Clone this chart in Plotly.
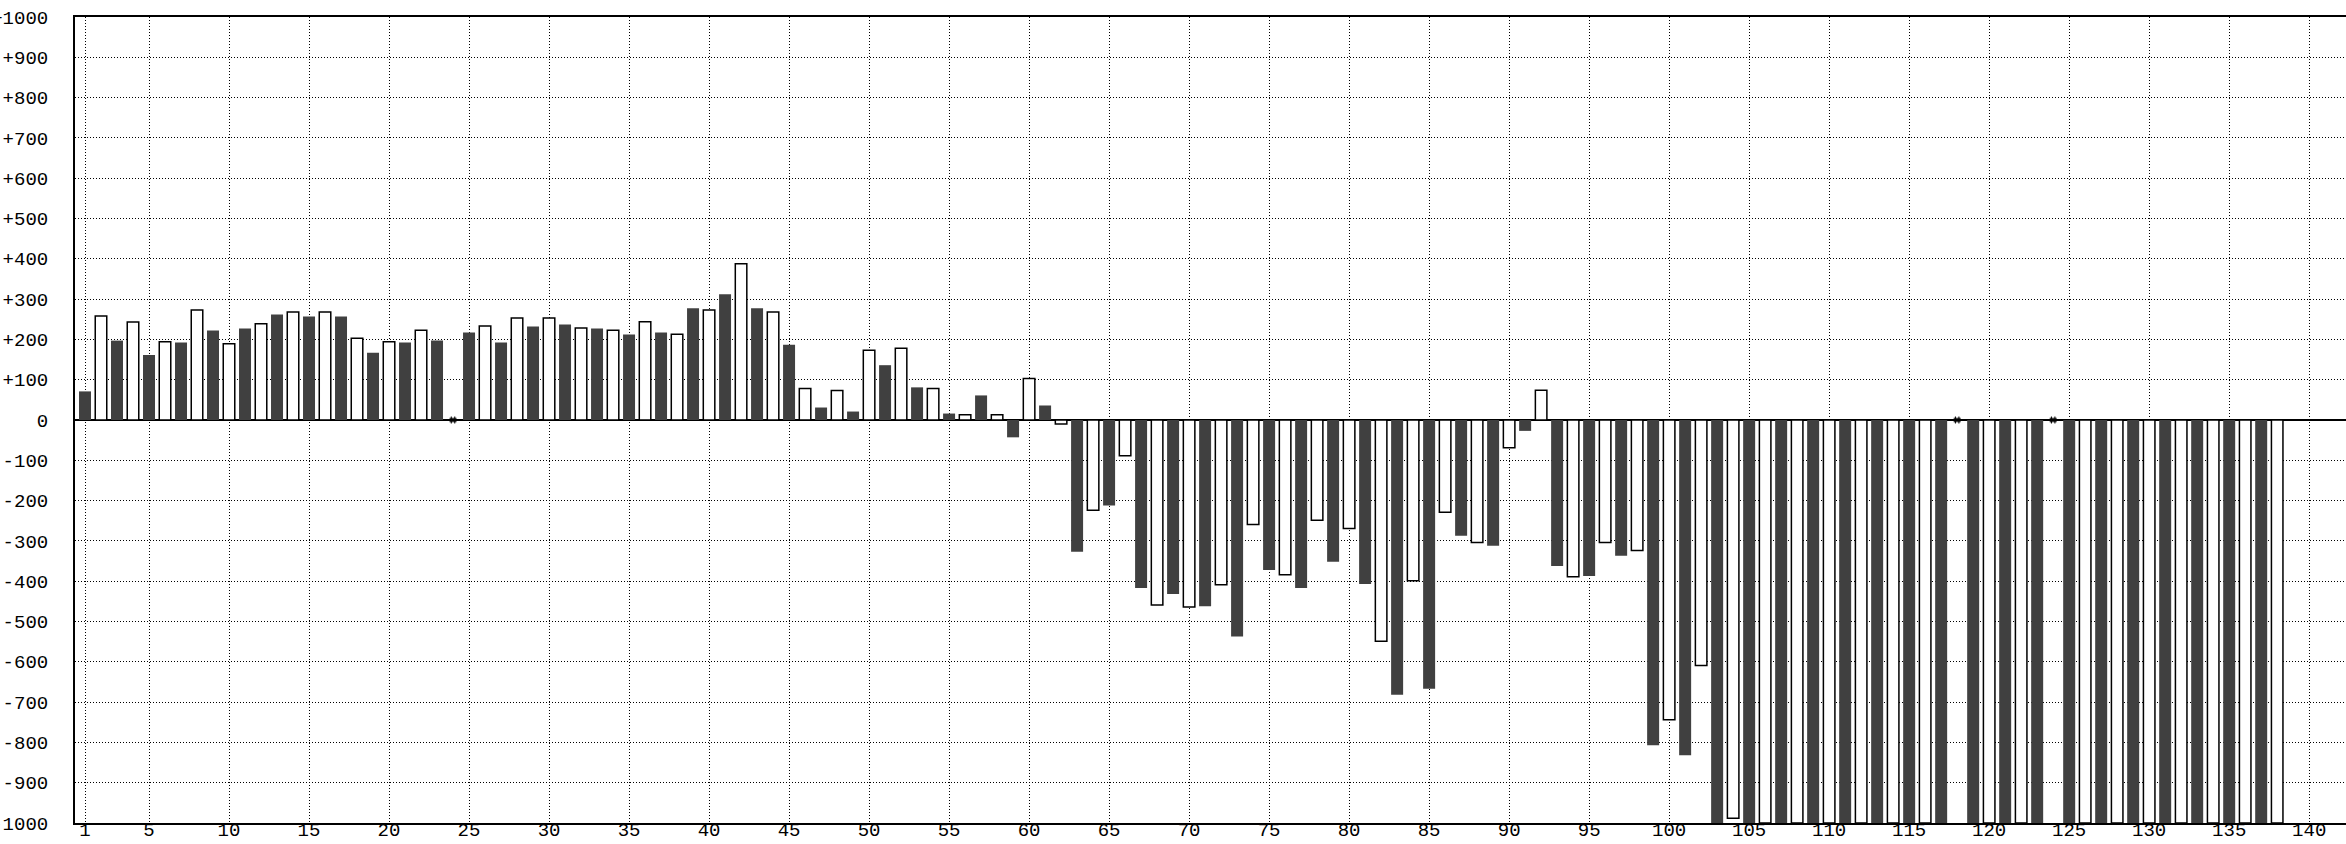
import plotly.graph_objects as go

# Category positions (1..138) and values; None = missing reading
positions = list(range(1, 139))

values_1_46 = [71, 258, 197, 243, 161, 194, 192, 273, 222, 189,
               227, 239, 262, 268, 257, 268, 257, 203, 167, 194,
               192, 223, 197, None, 217, 233, 192, 253, 232, 253,
               237, 228, 227, 223, 212, 244, 217, 213, 277, 273,
               312, 388, 277, 268, 187, 78]
values_47_92 = [31, 73, 21, 173, 136, 178, 81, 78, 16, 13,
                61, 13, -43, 103, 36, -10, -327, -224, -212, -89,
                -417, -459, -432, -464, -462, -409, -537, -259, -372, -384,
                -417, -249, -352, -269, -407, -549, -682, -399, -667, -229,
                -287, -304, -312, -69, -27, 74]
values_93_138 = [-362, -389, -387, -304, -337, -324, -807, -744, -832, -609,
                 -1000, -988, -1000, -1000, -1000, -1000, -1000, -1000, -1000, -1000,
                 -1000, -1000, -1000, -1000, -1000, None, -1000, -1000, -1000, -1000,
                 -1000, None, -1000, -1000, -1000, -1000, -1000, -1000, -1000, -1000,
                 -1000, -1000, -1000, -1000, -1000, -1000]
values = values_1_46 + values_47_92 + values_93_138

x_ticks = [1] + list(range(5, 141, 5))
y_ticks = list(range(-1000, 1001, 100))
y_ticktext = [("+" + str(v)) if v > 0 else str(v) for v in y_ticks]

odd_x = [x for x, v in zip(positions, values) if x % 2 == 1 and v is not None]
odd_v = [v for x, v in zip(positions, values) if x % 2 == 1 and v is not None]
even_x = [x for x, v in zip(positions, values) if x % 2 == 0 and v is not None]
even_v = [v for x, v in zip(positions, values) if x % 2 == 0 and v is not None]
missing_x = [x for x, v in zip(positions, values) if v is None]

X_RANGE = [0.375, 142.3]

fig = go.Figure()
fig.add_trace(go.Bar(x=odd_x, y=odd_v, width=0.75,
                     marker=dict(color="#404040", line=dict(width=0)),
                     showlegend=False))
fig.add_trace(go.Bar(x=even_x, y=even_v, width=0.72,
                     marker=dict(color="#ffffff", line=dict(color="#000000", width=1.5)),
                     showlegend=False))
fig.add_trace(go.Scatter(x=missing_x, y=[0] * len(missing_x), mode="markers",
                         xaxis="x2",
                         marker=dict(symbol="hash-open", size=7,
                                     line=dict(color="#000000", width=1), color="#000000"),
                         showlegend=False, cliponaxis=False))

font = dict(family="Liberation Mono", size=19, color="#000000")

fig.update_layout(
    width=2346, height=844,
    margin=dict(l=75, r=0, t=17, b=21, pad=0, autoexpand=False),
    paper_bgcolor="#ffffff", plot_bgcolor="#ffffff",
    barmode="overlay",
    font=font,
    xaxis=dict(range=X_RANGE, tickvals=x_ticks, showticklabels=False,
               showgrid=True, gridcolor="#000000", gridwidth=1, griddash="1px,2px",
               showline=True, linecolor="#000000", linewidth=2, mirror=True,
               ticks="", ticklen=0, zeroline=False, automargin=False),
    xaxis2=dict(range=X_RANGE, overlaying="x", anchor="free", position=0.009,
                side="bottom", tickvals=x_ticks, ticktext=[str(t) for t in x_ticks],
                showgrid=False, showline=False, zeroline=False, ticks="", ticklen=0,
                tickfont=font, ticklabelstandoff=0, automargin=False),
    yaxis=dict(range=[-1000, 1000], tickvals=y_ticks, ticktext=y_ticktext,
               showgrid=True, gridcolor="#000000", gridwidth=1, griddash="1px,2px",
               showline=True, linecolor="#000000", linewidth=2, mirror=False,
               zeroline=True, zerolinecolor="#000000", zerolinewidth=2,
               ticks="", ticklen=0, tickfont=font, ticklabelstandoff=21,
               automargin=False),
)

fig.write_html(
    "out.html",
    config={"displayModeBar": False},
    post_script="document.body.style.margin='0';document.body.style.overflow='hidden';",
)
